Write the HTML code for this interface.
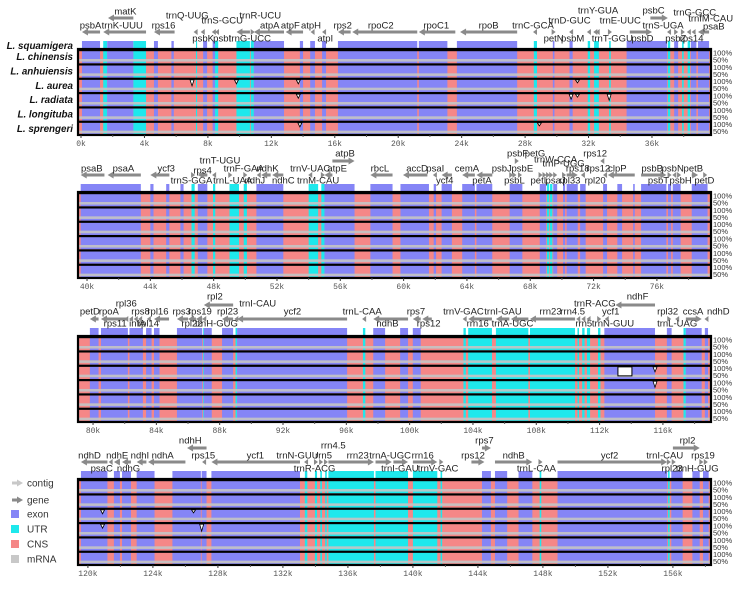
<!DOCTYPE html>
<html><head><meta charset="utf-8"><style>
html,body{margin:0;padding:0;background:#fff;}
svg{display:block;font-family:"Liberation Sans",sans-serif;}
</style></head><body>
<svg id="chart" width="739" height="590" viewBox="0 0 739 590" xmlns="http://www.w3.org/2000/svg"></svg>
<script>
const species = ["L. squamigera","L. chinensis","L. anhuiensis","L. aurea","L. radiata","L. longituba","L. sprengeri"];
const panelStarts = [-0.19, 39.43, 79.05, 119.39];
const panelScales = [15.86, 15.83, 15.83, 16.25];
const panelTops = [49, 192, 336, 479];
const tickLabels = [["0k","4k","8k","12k","16k","20k","24k","28k","32k","36k"],["40k","44k","48k","52k","56k","60k","64k","68k","72k","76k"],["80k","84k","88k","92k","96k","100k","104k","108k","112k","116k"],["120k","124k","128k","132k","136k","140k","144k","148k","152k","156k"]];
const tickValues = [[0,4,8,12,16,20,24,28,32,36],[40,44,48,52,56,60,64,68,72,76],[80,84,88,92,96,100,104,108,112,116],[120,124,128,132,136,140,144,148,152,156]];
const feat1 = [[0.06,1.2,"e"],[1.4,1.65,"u"],[1.65,3.3,"e"],[3.3,4.1,"u"],[4.6,4.85,"e"],[5.7,5.85,"e"],[7.25,7.32,"u"],[7.7,7.95,"e"],[8.3,8.45,"e"],[8.45,8.65,"u"],[9.8,10.65,"u"],[10.7,10.9,"u"],[10.9,12.8,"e"],[13.8,14.0,"e"],[14.45,14.75,"e"],[15.2,15.45,"e"],[16.2,21.2,"e"],[21.3,23.1,"e"],[23.7,27.5,"e"],[28.55,28.75,"u"],[29.75,29.85,"e"],[30.8,31.0,"e"],[31.95,32.1,"u"],[32.35,32.65,"u"],[33.3,33.4,"u"],[34.4,36.95,"e"],[37.0,37.15,"u"],[37.4,37.65,"e"],[37.9,38.0,"u"],[38.25,38.4,"u"],[38.45,38.8,"e"],[38.9,39.6,"e"]];
const feat2 = [[39.6,43.4,"e"],[44.0,44.2,"e"],[45.0,45.2,"e"],[45.9,46.1,"e"],[46.6,46.8,"u"],[47.0,47.6,"e"],[47.96,48.1,"u"],[49.0,49.6,"u"],[49.9,50.1,"u"],[50.7,52.4,"e"],[54.0,54.6,"u"],[54.8,55.0,"u"],[55.0,56.9,"e"],[57.9,59.3,"e"],[59.8,61.6,"e"],[61.9,62.05,"e"],[62.4,63.05,"e"],[63.7,64.5,"e"],[64.6,65.6,"e"],[66.7,67.5,"e"],[68.6,69.0,"e"],[69.05,69.2,"u"],[69.25,69.4,"u"],[69.45,69.7,"e"],[70.07,70.2,"e"],[70.3,71.0,"e"],[71.15,71.5,"e"],[72.6,72.85,"e"],[73.5,73.8,"e"],[74.5,74.6,"e"],[75.0,76.6,"e"],[76.7,76.9,"e"],[77.0,77.5,"e"],[78.2,79.2,"e"]];
const feat3 = [[79.8,80.35,"e"],[80.5,82.2,"e"],[82.3,83.15,"e"],[83.35,83.7,"e"],[83.85,84.2,"e"],[85.3,86.9,"e"],[86.95,87.0,"u"],[87.0,87.5,"e"],[88.15,88.85,"e"],[89.0,89.1,"u"],[89.1,96.05,"e"],[97.05,97.2,"u"],[97.7,98.45,"e"],[99.4,99.9,"e"],[100.2,100.7,"e"],[103.4,103.55,"u"],[103.7,105.2,"u"],[105.45,107.5,"u"],[107.6,110.45,"u"],[110.6,110.7,"u"],[110.9,111.05,"u"],[111.2,111.4,"u"],[111.9,112.05,"u"],[112.3,115.5,"e"],[116.25,116.55,"e"],[117.3,117.45,"u"],[117.45,118.45,"e"],[118.65,118.85,"e"]];
const feat4 = [[119.57,121.2,"e"],[121.6,121.97,"e"],[122.1,122.65,"e"],[123.0,124.1,"e"],[125.2,126.95,"e"],[127.0,127.3,"e"],[127.6,133.05,"e"],[133.35,133.5,"u"],[133.97,134.1,"u"],[134.3,134.4,"u"],[134.6,134.7,"u"],[134.8,137.6,"u"],[137.7,139.7,"u"],[140.0,141.5,"u"],[141.7,141.8,"u"],[144.25,144.8,"e"],[145.05,145.8,"e"],[146.5,147.35,"e"],[147.8,147.9,"u"],[148.9,155.65,"e"],[155.7,155.8,"u"],[155.9,156.6,"e"],[157.2,157.65,"e"],[157.85,158.2,"e"]];
const features = [feat1, feat2, feat3, feat4];
const genes = [
["matK",0,1.7,3.3,-1,-31,2.8,-38],["psbA",0,0.06,1.2,-1,-17,0.6,-24],["trnK-UUU",0,1.4,4.1,-1,-17,2.6,-24],["rps16",0,4.6,5.9,-1,-17,5.2,-24],
["trnQ-UUG",0,7.15,7.3,-1,-17,6.7,-34],["psbK",0,7.6,7.75,-1,-17,7.7,-11],["psbI",0,8.3,8.45,-1,-17,8.9,-11],["trnS-GCU",0,8.5,8.65,-1,-17,8.9,-29],
["trnG-UCC",0,9.8,10.65,-1,-17,10.65,-11],["trnR-UCU",0,10.75,10.9,1,-17,11.3,-34],["atpA",0,10.9,12.8,-1,-17,11.9,-24],["atpF",0,12.9,14.0,-1,-17,13.2,-24],
["atpH",0,14.45,14.75,-1,-17,14.5,-24],["atpI",0,15.2,15.45,-1,-17,15.4,-11],["rps2",0,16.2,17.0,-1,-17,16.5,-24],["rpoC2",0,17.1,21.2,-1,-17,18.9,-24],
["rpoC1",0,21.3,23.6,-1,-17,22.4,-24],["rpoB",0,23.9,27.5,-1,-17,25.7,-24],["trnC-GCA",0,28.55,28.7,-1,-17,28.5,-24],["petN",0,29.75,29.85,1,-17,29.8,-11],
["psbM",0,30.8,31.0,-1,-17,31.0,-11],["trnD-GUC",0,31.95,32.1,-1,-17,30.8,-29],["trnY-GUA",0,32.35,32.5,-1,-17,32.6,-39],["trnE-UUC",0,32.5,32.65,-1,-17,34.0,-29],
["trnT-GGU",0,33.3,33.4,1,-17,33.5,-11],["psbD",0,34.6,36.0,1,-17,35.4,-11],["psbC",0,35.9,37.0,1,-31,36.1,-39],["trnS-UGA",0,37.0,37.15,-1,-17,36.7,-24],
["psbZ",0,37.4,37.65,1,-17,37.5,-11],["trnG-GCC",0,37.9,38.0,1,-17,38.7,-37],["trnfM-CAU",0,38.25,38.4,-1,-17,39.7,-31],["rps14",0,38.45,38.8,-1,-17,38.5,-11],["psaB",0,38.9,39.6,-1,-17,39.9,-23],
["psaB",1,39.6,41.1,-1,-17,40.3,-24],["psaA",1,41.3,43.4,-1,-17,42.3,-24],["ycf3",1,44.0,45.2,-1,-17,45.0,-24],["trnS-GGA",1,46.6,46.8,1,-17,46.6,-12],
["rps4",1,47.0,47.6,-1,-17,47.3,-22],["trnT-UGU",1,47.96,48.1,-1,-17,48.4,-32],["trnL-UAA",1,49.0,49.1,1,-17,49.2,-12],["trnF-GAA",1,49.9,50.1,1,-17,49.9,-24],
["ndhJ",1,50.7,51.0,-1,-17,50.6,-12],["ndhK",1,51.0,51.6,-1,-17,51.4,-24],["ndhC",1,51.7,52.4,-1,-17,52.4,-12],["trnV-UAC",1,54.0,54.2,-1,-17,54.1,-24],
["trnM-CAU",1,54.8,55.0,1,-17,54.6,-12],["atpE",1,55.0,55.5,-1,-17,55.8,-24],["atpB",1,55.5,56.9,1,-31,56.3,-39],["rbcL",1,57.9,59.3,-1,-17,58.5,-24],
["accD",1,59.96,61.5,-1,-17,60.85,-24],["psaI",1,61.9,62.05,-1,-17,62.0,-24],["ycf4",1,62.4,63.05,-1,-17,62.6,-12],["cemA",1,63.7,64.5,-1,-17,64.0,-24],
["petA",1,64.6,65.6,-1,-17,64.95,-12],["psbJ",1,66.7,66.9,1,-17,66.2,-24],["psbL",1,66.9,67.1,1,-17,67.0,-12],["psbE",1,67.2,67.5,1,-17,67.5,-24],
["psbF",1,67.1,67.2,1,-31,67.2,-39],["petG",1,68.6,68.7,1,-17,68.3,-39],["trnW-CCA",1,69.05,69.2,1,-17,69.6,-33],["trnP-UGG",1,69.25,69.4,1,-17,70.1,-29],
["petL",1,68.8,69.0,1,-17,68.6,-12],["psaJ",1,69.45,69.7,1,-17,69.6,-12],["rpl33",1,70.07,70.2,1,-17,70.5,-12],["rps18",1,70.3,71.0,1,-17,71.0,-24],
["rpl20",1,71.15,71.5,-1,-17,72.1,-12],["rps12",1,72.5,72.6,-1,-31,72.1,-39],["rps12",1,72.6,72.85,-1,-17,72.3,-24],["clpP",1,72.9,74.6,-1,-17,73.5,-24],
["psbB",1,75.0,76.6,1,-17,75.7,-24],["psbT",1,76.7,76.9,1,-17,76.1,-12],["psbN",1,77.0,77.2,-1,-17,77.0,-24],["psbH",1,77.3,77.5,1,-17,77.5,-12],
["petB",1,78.2,78.6,1,-17,78.3,-24],["petD",1,78.9,79.2,1,-17,79.0,-12],
["petD",2,79.8,80.35,-1,-17,79.8,-25],["rpoA",2,80.5,82.2,-1,-17,81.0,-25],["rps11",2,82.0,82.2,-1,-17,81.4,-13],["rpl36",2,82.3,82.5,-1,-17,82.1,-33],
["infA",2,82.6,82.8,-1,-17,82.8,-13],["rps8",2,82.8,83.15,-1,-17,83.0,-25],["rpl14",2,83.35,83.7,-1,-17,83.5,-13],["rpl16",2,83.85,84.8,-1,-17,84.1,-25],
["rps3",2,85.3,86.0,-1,-17,85.6,-25],["rpl22",2,86.0,86.5,-1,-17,86.25,-13],["rps19",2,86.5,86.9,-1,-17,86.75,-25],["trnH-GUG",2,86.95,87.1,-1,-17,87.8,-13],
["rpl2",2,87.0,88.85,-1,-31,87.7,-40],["rpl23",2,88.15,88.85,-1,-17,88.5,-25],["trnI-CAU",2,89.0,89.1,-1,-17,90.4,-33],["ycf2",2,89.1,96.05,-1,-17,92.6,-25],
["trnL-CAA",2,97.05,97.2,-1,-17,97.0,-25],["ndhB",2,97.7,99.9,-1,-17,98.6,-13],["rps7",2,100.2,100.7,-1,-17,100.4,-25],["rps12",2,100.8,101.4,-1,-17,101.2,-13],
["trnV-GAC",2,103.4,103.55,-1,-17,103.4,-25],["rrn16",2,103.7,105.2,-1,-17,104.3,-13],["trnI-GAU",2,105.45,106.3,-1,-17,105.9,-25],["trnA-UGC",2,106.4,107.5,-1,-17,106.5,-13],
["rrn23",2,107.6,110.45,-1,-17,108.9,-25],["rrn4.5",2,110.6,110.7,-1,-17,110.3,-25],["rrn5",2,110.9,111.05,-1,-17,111.0,-13],["trnR-ACG",2,111.2,111.4,-1,-17,111.7,-33],
["trnN-GUU",2,111.9,112.05,1,-17,112.85,-13],["ycf1",2,112.3,112.6,-1,-17,112.7,-25],["ndhF",2,113.0,115.5,-1,-31,114.4,-40],["rpl32",2,116.25,116.55,1,-17,116.3,-25],
["trnL-UAG",2,116.8,117.0,-1,-17,116.9,-13],["ccsA",2,117.45,118.45,1,-17,117.9,-25],["ndhD",2,118.65,118.85,-1,-17,119.5,-25],
["ndhD",3,119.57,121.2,-1,-17,120.1,-24],["psaC",3,121.3,121.5,-1,-17,120.85,-11],["ndhE",3,121.6,121.97,-1,-17,121.8,-24],["ndhG",3,122.1,122.65,-1,-17,122.5,-11],
["ndhI",3,123.0,123.6,-1,-17,123.2,-24],["ndhA",3,123.7,126.0,-1,-17,124.6,-24],["ndhH",3,126.1,127.3,-1,-31,126.3,-39],["rps15",3,127.0,127.3,-1,-17,127.1,-24],
["ycf1",3,127.6,133.05,-1,-17,130.3,-24],["trnN-GUU",3,133.35,133.5,-1,-17,132.9,-24],["trnR-ACG",3,133.97,134.1,1,-17,133.95,-11],["rrn5",3,134.3,134.4,1,-17,134.5,-24],
["rrn4.5",3,134.6,134.7,1,-17,135.1,-34],["rrn23",3,134.8,137.6,1,-17,136.6,-24],["trnA-UGC",3,137.7,138.7,1,-17,138.6,-24],["trnI-GAU",3,138.8,139.7,1,-17,139.2,-11],
["rrn16",3,140.0,141.5,1,-17,140.6,-24],["trnV-GAC",3,141.7,141.8,1,-17,141.55,-11],["rps7",3,144.25,144.8,1,-31,144.4,-39],["rps12",3,143.6,144.4,1,-17,143.7,-24],
["ndhB",3,145.05,147.35,1,-17,146.2,-24],["trnL-CAA",3,147.8,147.9,1,-17,147.6,-11],["ycf2",3,148.9,155.65,1,-17,152.1,-24],["trnI-CAU",3,155.7,155.8,1,-17,155.5,-24],
["rpl23",3,155.9,156.2,1,-17,155.95,-11],["rpl2",3,156.0,157.65,1,-31,156.9,-39],["trnH-GUG",3,157.7,157.8,1,-17,157.5,-11],["rps19",3,157.85,158.2,1,-17,157.85,-24]
];
const dips = [[0,3,7.0,6],[0,3,9.8,4],[0,3,13.7,4],[0,4,13.7,4],[0,4,30.9,5],[0,4,33.3,6],[0,6,13.8,4],[0,6,28.9,3],[0,3,31.3,3],[0,4,31.3,3],
[2,3,113.6,0],[2,3,115.5,5],[2,4,115.5,6],[3,3,120.9,4],[3,4,120.9,4],[3,4,127.0,7],[3,3,126.5,3]];

const NS="http://www.w3.org/2000/svg";
const svg=document.getElementById('chart');
function mk(tag,attrs,parent){const e=document.createElementNS(NS,tag);for(const k in attrs)e.setAttribute(k,attrs[k]);(parent||svg).appendChild(e);return e;}
const X0=78, X1=711, ROWH=14.33;
function xOf(p,k){return X0+(k-panelStarts[p])*panelScales[p];}
const COL={e:"#8585f6",u:"#1ee8ec",c:"#f58787"};

for(let p=0;p<4;p++){
  const T=panelTops[p];
  const g=mk('g',{});
  
  
  features[p].forEach(f=>{
    const x1=Math.max(X0,xOf(p,f[0])), x2=Math.min(X1,xOf(p,f[1]));
    const r=mk('rect',{x:x1,y:T-8,width:Math.max(0.8,x2-x1),height:8,fill:COL[f[2]]},g);
    
    
  });
  for(let r=0;r<6;r++){
    const y=T+r*ROWH;
    const row=mk('g',{},g);
    
    
    mk('rect',{x:X0,y:y,width:X1-X0,height:ROWH,fill:COL.c},row);
    features[p].forEach(f=>{
      const x1=Math.max(X0,xOf(p,f[0])), x2=Math.min(X1,xOf(p,f[1]));
      const rc=mk('rect',{x:x1,y:y,width:Math.max(0.8,x2-x1),height:ROWH,fill:COL[f[2]]},row);
      
      
    });
    mk('rect',{x:X0,y:y+10,width:X1-X0,height:2.6,fill:"#c4c4c4",opacity:0.9},row);
    mk('rect',{x:X0,y:y,width:X1-X0,height:2.2,fill:"#000"},row);
    const t1=mk('text',{x:713,y:y+6.5,'font-size':7.5,fill:"#333"},g);t1.textContent="100%";
    
    const t2=mk('text',{x:713,y:y+13.5,'font-size':7.5,fill:"#333"},g);t2.textContent="50%";
    
  }
  mk('rect',{x:X0,y:T,width:X1-X0,height:6*ROWH,fill:"none",stroke:"#000","stroke-width":2.2},g);
  tickValues[p].forEach((v,i)=>{
    const x=xOf(p,v);
    mk('line',{x1:x,y1:T+6*ROWH,x2:x,y2:T+6*ROWH+3,stroke:"#333"},g);
    const mx=xOf(p,v+2);
    if(mx<X1) mk('line',{x1:mx,y1:T+6*ROWH,x2:mx,y2:T+6*ROWH+2,stroke:"#555"},g);
    const t=mk('text',{x:x,y:T+6*ROWH+11,'font-size':8,'text-anchor':'middle',fill:"#555",'font-family':'"Liberation Mono",monospace'},g);
    t.textContent=tickLabels[p][i];
    
    
  });
}
dips.forEach(d=>{
  const p=d[0],T=panelTops[p],y=T+d[1]*ROWH-ROWH+2.2,x=xOf(p,d[2]);
  let e;
  if(d[3]===0){ e=mk('rect',{x:x-7,y:y,width:14,height:9,fill:"#fff",stroke:"#000","stroke-width":1}); }
  else { e=mk('path',{d:`M${x-2},${y} L${x+2},${y} L${x},${y+d[3]} Z`,fill:"#fff",stroke:"#000","stroke-width":0.8}); }
  
  
});
genes.forEach(g=>{
  const p=g[1],T=panelTops[p];
  const x1=xOf(p,g[2]),x2=xOf(p,g[3]),ay=T+g[5];
  const gg=mk('g',{});
  
  
  const w=x2-x1;
  if(w>6){
    if(g[4]<0){ mk('rect',{x:x1+5,y:ay-1.5,width:w-5,height:3,fill:"#8a8a8a"},gg); mk('path',{d:`M${x1},${ay} L${x1+6},${ay-3.5} L${x1+6},${ay+3.5} Z`,fill:"#8a8a8a"},gg);}
    else { mk('rect',{x:x1,y:ay-1.5,width:w-5,height:3,fill:"#8a8a8a"},gg); mk('path',{d:`M${x2},${ay} L${x2-6},${ay-3.5} L${x2-6},${ay+3.5} Z`,fill:"#8a8a8a"},gg);}
  } else {
    const c=(x1+x2)/2;
    if(g[4]<0) mk('path',{d:`M${c-2},${ay} L${c+2},${ay-3} L${c+2},${ay+3} Z`,fill:"#8a8a8a"},gg);
    else mk('path',{d:`M${c+2},${ay} L${c-2},${ay-3} L${c-2},${ay+3} Z`,fill:"#8a8a8a"},gg);
  }
  const t=mk('text',{x:xOf(p,g[6]),y:T+g[7]+3.5,'font-size':9.5,'text-anchor':'middle',fill:"#222"},gg);
  t.textContent=g[0];
});
species.forEach((s,i)=>{
  const y=i===0?45:49+(i-1)*ROWH+ROWH/2;
  const t=mk('text',{x:73,y:y+4,'font-size':9.8,'font-weight':'bold','font-style':'italic','text-anchor':'end',fill:"#111"});
  t.textContent=s;
  
  
});
const legendNames=["contig","gene","exon","UTR","CNS","mRNA"];
const legendY=[483,500,514,529,544,559];
const lg=mk('g',{});


legendNames.forEach((n,i)=>{
  const y=legendY[i];
  if(i<2){
    const c=i===0?"#c8c8c8":"#8a8a8a";
    mk('rect',{x:12,y:y-1.5,width:6,height:3,fill:c},lg);
    mk('path',{d:`M23,${y} L17,${y-3.5} L17,${y+3.5} Z`,fill:c},lg);
  } else {
    const c=[null,null,COL.e,COL.u,COL.c,"#c8c8c8"][i];
    mk('rect',{x:11,y:y-4,width:8,height:8,fill:c},lg);
  }
  const t=mk('text',{x:27,y:y+3.5,'font-size':10,fill:"#333"},lg);
  t.textContent=n;
  
  
});
</script>
</body></html>
